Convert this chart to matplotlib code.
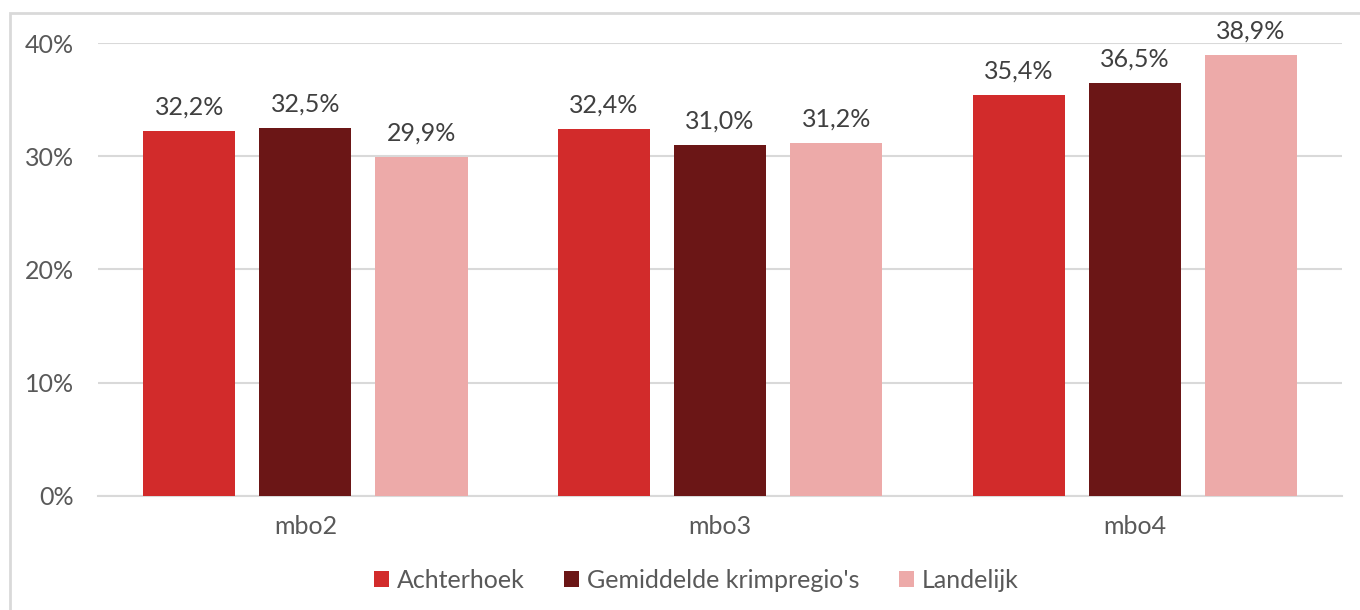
import numpy as np
import matplotlib
matplotlib.use("Agg")
import matplotlib.pyplot as plt
from matplotlib.patches import Rectangle

# data
categories = ["mbo2", "mbo3", "mbo4"]
series_names = ["Achterhoek", "Gemiddelde krimpregio's", "Landelijk"]
achterhoek = [32.2, 32.4, 35.4]
krimpregio = [32.5, 31.0, 36.5]
landelijk = [29.9, 31.2, 38.9]
colors = ["#D22B2B", "#6B1616", "#EDAAA9"]

plt.rcParams["font.family"] = ["Lato", "DejaVu Sans"]
txt = "#595959"
grid = "#D9D9D9"

fig = plt.figure(figsize=(13.6, 6.1), dpi=100)
ax = fig.add_axes([0.072, 0.187, 0.915, 0.7425])

x = np.arange(len(categories))
step = 0.28
width = 0.222
for i, (vals, name) in enumerate(zip([achterhoek, krimpregio, landelijk], series_names)):
    bars = ax.bar(x + (i - 1) * step, vals, width, color=colors[i], label=name, zorder=3)
    for b, v in zip(bars, vals):
        ax.annotate(f"{v:.1f}%".replace(".", ","), (b.get_x() + b.get_width() / 2, v),
                    xytext=(0, 9), textcoords="offset points", ha="center", va="bottom",
                    fontsize=18, color="#404040")

ax.set_xlim(-0.5, 2.5)
ax.set_ylim(0, 40)
ax.set_yticks([0, 10, 20, 30, 40])
ax.set_yticklabels([f"{t}%" for t in [0, 10, 20, 30, 40]])
ax.set_xticks(x)
ax.set_xticklabels(categories)
ax.tick_params(length=0, labelsize=18, labelcolor=txt)
ax.tick_params(axis="y", pad=17)
ax.tick_params(axis="x", pad=14)
ax.grid(axis="y", color=grid, linewidth=1.5, zorder=0)
for s in ["top", "right", "left"]:
    ax.spines[s].set_visible(False)
ax.spines["bottom"].set_color(grid)
ax.spines["bottom"].set_linewidth(1.5)

leg = fig.legend(loc="center", bbox_to_anchor=(0.512, 0.049), ncol=3, frameon=False,
                 fontsize=18, handlelength=0.6, handleheight=0.6, handletextpad=0.3,
                 columnspacing=1.6)
for t in leg.get_texts():
    t.set_color(txt)

fig.patches.append(Rectangle((10 / 1360, -0.1), 1.2, 1 - 13 / 610 + 0.1, transform=fig.transFigure,
                             fill=False, edgecolor=grid, linewidth=2))

fig.savefig("out.png", dpi=100)
